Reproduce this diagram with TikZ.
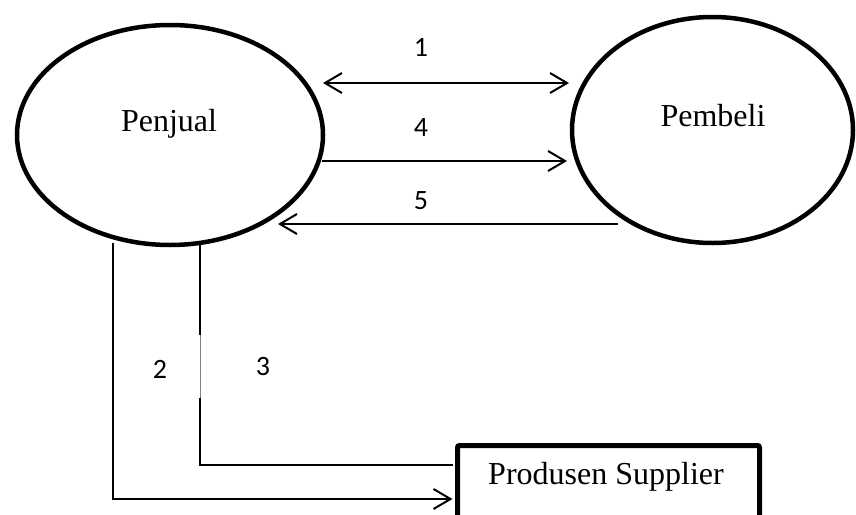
\documentclass[tikz,border=0pt]{standalone}
\usepackage{fontspec}
\setmainfont{Liberation Serif}
\newfontfamily\numfont{Carlito}
\usetikzlibrary{shapes.geometric,arrows.meta}
\tikzset{
  ell/.style={shape=ellipse,draw,line width=4.5pt,inner sep=0pt},
  lbl/.style={font=\fontsize{32}{38}\selectfont,anchor=base,inner sep=0pt},
  num/.style={font=\numfont\fontsize{28}{32}\selectfont,inner sep=0pt},
  conn/.style={line width=2pt},
  arr/.style={conn,-{Straight Barb[length=17pt,width=20pt]}},
  darr/.style={conn,{Straight Barb[length=17pt,width=20pt]}-{Straight Barb[length=17pt,width=20pt]}},
  boxst/.style={draw,line width=5pt,rounded corners=2pt,inner sep=0pt}
}
\begin{document}
\begin{tikzpicture}[x=1pt,y=-1pt]
\useasboundingbox (0,0) rectangle (856,514);
\clip (0,0) rectangle (856,514);
% nodes
\node[ell,minimum width=306pt,minimum height=220pt] (penjual) at (170,135) {};
\node[lbl] (tpenjual) at (169,131) {Penjual};
\node[ell,minimum width=281pt,minimum height=226pt] (pembeli) at (712.5,130) {};
\node[lbl] (tpembeli) at (713,126) {Pembeli};
\node[boxst,anchor=north west,minimum width=302pt,minimum height=120pt] (prod) at (455,443) {};
\node[lbl] (tprod) at (606,484) {Produsen Supplier};
% connector end points
\coordinate (a1s) at (323,83);
\coordinate (a1e) at (569,83);
\coordinate (a4s) at (322,161);
\coordinate (a4e) at (567,161);
\coordinate (a5s) at (618,224);
\coordinate (a5e) at (278,224);
\coordinate (a2s) at (113,243);
\coordinate (a2e) at (452.5,499);
\coordinate (a3s) at (200,245);
\coordinate (g3a) at (200,335);
\coordinate (g3b) at (200,398);
\coordinate (a3e) at (453,465);
% connectors
\draw[darr] (a1s) -- (a1e);
\draw[arr] (a4s) -- (a4e);
\draw[arr] (a5s) -- (a5e);
\draw[arr] (a2s) |- (a2e);
\draw[conn] (a3s) -- (g3a);
\draw[line width=1pt,gray] (g3a) -- (g3b);
\draw[conn] (g3b) |- (a3e);
% labels
\node[num] (n1) at (421,47) {1};
\node[num] (n4) at (421,128) {4};
\node[num] (n5) at (421,201) {5};
\node[num] (n2) at (160,369) {2};
\node[num] (n3) at (263,367) {3};
\end{tikzpicture}
\end{document}
